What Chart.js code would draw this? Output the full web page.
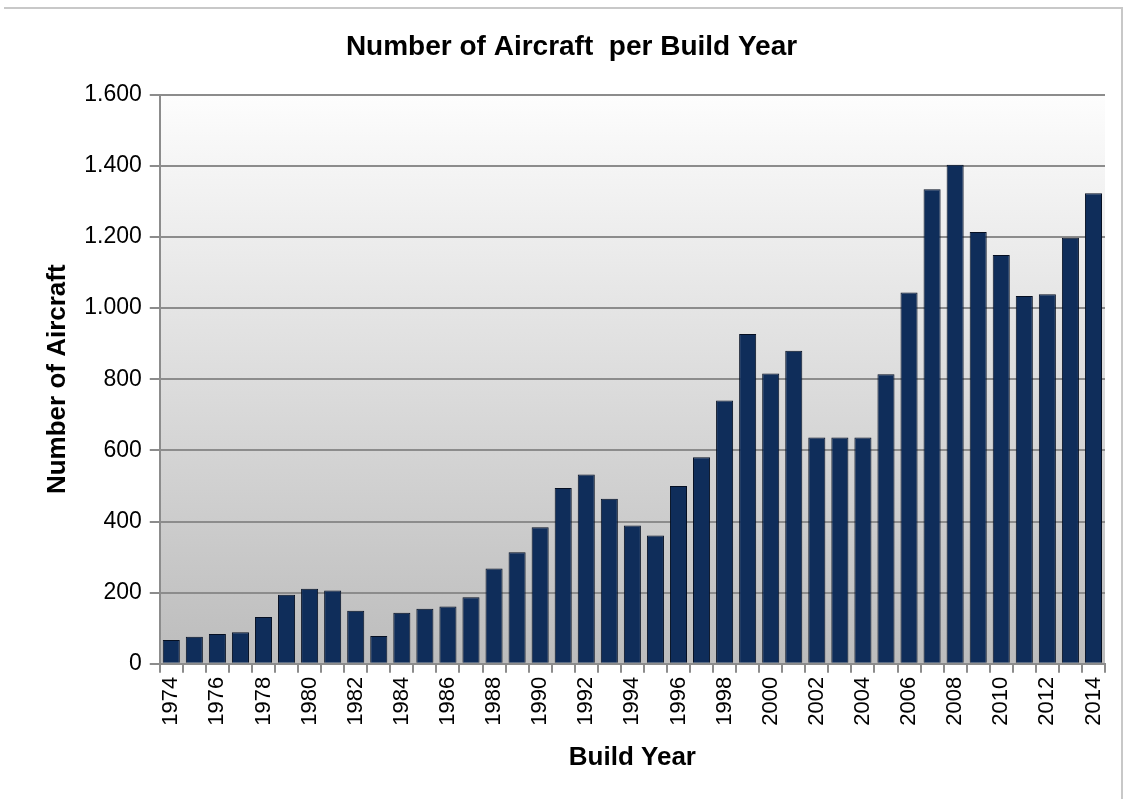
<!DOCTYPE html>
<html>
<head>
<meta charset="utf-8">
<script src="https://cdn.jsdelivr.net/npm/chart.js@4"></script>
<style>
  html, body { margin: 0; padding: 0; background: #fff; }
  canvas { position: absolute; left: 0; top: 0; }
  #frame { position: absolute; left: 4px; top: 7px; width: 1117px; height: 800px; border-top: 2px solid #c8c8c8; border-right: 2px solid #c8c8c8; }
</style>
</head>
<body>
<div id="frame"></div>
<canvas id="myChart" width="1125" height="799"></canvas>
<script>
const buildYears = [];
for (let y = 1974; y <= 2014; y++) buildYears.push(String(y));

const aircraftCounts = [
  67, 76, 84, 89, 132, 194, 211, 206, 149, 78,
  144, 155, 161, 187, 268, 314, 384, 494, 532, 464,
  389, 361, 500, 581, 740, 927, 816, 880, 636, 636,
  636, 814, 1044, 1334, 1403, 1214, 1149, 1034, 1039, 1198,
  1323
];

const yMax = 1600;
const yStep = 200;

function formatThousands(v) {
  return v.toString().replace(/\B(?=(\d{3})+(?!\d))/g, '.');
}

// grey gradient behind the bars
const plotBackground = {
  id: 'plotBackground',
  beforeDraw(chart) {
    const { ctx, chartArea } = chart;
    if (!chartArea) return;
    const g = ctx.createLinearGradient(0, chartArea.top, 0, chartArea.bottom);
    g.addColorStop(0, '#fdfdfd');
    g.addColorStop(1, '#bcbcbc');
    ctx.save();
    ctx.fillStyle = g;
    ctx.fillRect(chartArea.left, chartArea.top, chartArea.right - chartArea.left, chartArea.bottom - chartArea.top);
    ctx.restore();
  }
};

function barFill(context) {
  const el = context.element;
  const ctx = context.chart.ctx;
  if (!el || el.width == null || isNaN(el.x)) return '#0f2d5a';
  const left = el.x - el.width / 2;
  const g = ctx.createLinearGradient(left, 0, left + el.width, 0);
  g.addColorStop(0, '#061630');
  g.addColorStop(0.25, '#163a6a');
  g.addColorStop(0.6, '#0f2d58');
  g.addColorStop(1, '#040d1e');
  return g;
}

new Chart('myChart', {
  type: 'bar',
  data: {
    labels: buildYears,
    datasets: [{
      data: aircraftCounts,
      backgroundColor: barFill,
      borderColor: '#050f22',
      borderWidth: 1,
      barPercentage: 0.74,
      categoryPercentage: 1.0
    }]
  },
  plugins: [plotBackground],
  options: {
    responsive: false,
    animation: false,
    layout: { padding: { left: 38, right: 20, top: 16, bottom: 22 } },
    plugins: {
      legend: { display: false },
      tooltip: { enabled: false },
      title: {
        display: true,
        text: 'Number of Aircraft  per Build Year',
        color: '#000',
        font: { family: 'Liberation Sans', size: 28, weight: 'bold' },
        padding: { top: 14, bottom: 31 }
      }
    },
    scales: {
      x: {
        grid: {
          offset: true,
          drawOnChartArea: false,
          drawTicks: true,
          tickLength: 9,
          color: '#8c8c8c',
          lineWidth: 2
        },
        border: { color: '#8c8c8c', width: 2 },
        ticks: {
          autoSkip: false,
          maxRotation: 90,
          minRotation: 90,
          color: '#000',
          font: { family: 'Liberation Sans', size: 22 },
          padding: 4,
          callback: function (val, i) { return i % 2 === 0 ? this.getLabelForValue(val) : ''; }
        },
        title: {
          display: true,
          text: 'Build Year',
          color: '#000',
          font: { family: 'Liberation Sans', size: 26, weight: 'bold' },
          padding: { top: 12 }
        }
      },
      y: {
        min: 0,
        max: yMax,
        grid: {
          color: '#8c8c8c',
          lineWidth: 2,
          drawTicks: true,
          tickLength: 10
        },
        border: { color: '#8c8c8c', width: 2 },
        ticks: {
          stepSize: yStep,
          color: '#000',
          font: { family: 'Liberation Sans', size: 23 },
          padding: 8,
          callback: v => formatThousands(v)
        },
        title: {
          display: true,
          text: 'Number of Aircraft',
          color: '#000',
          font: { family: 'Liberation Sans', size: 26, weight: 'bold' },
          padding: { bottom: 3 }
        }
      }
    }
  }
});
</script>
</body>
</html>
